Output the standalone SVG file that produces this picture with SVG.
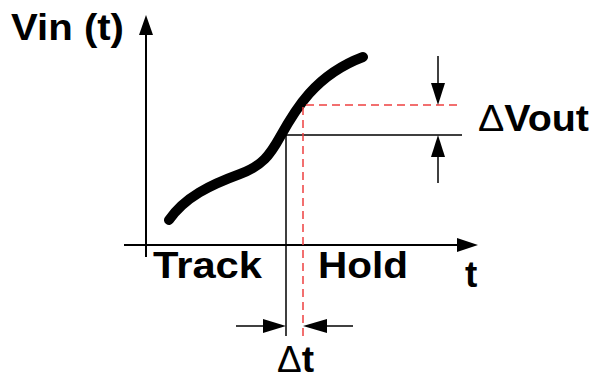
<svg xmlns="http://www.w3.org/2000/svg" width="598" height="377" viewBox="0 0 598 377">
<style>
.lbl{font-family:"Liberation Sans",Arial,sans-serif;font-weight:bold;font-size:37px;fill:#000}
.dl{font-weight:normal}
.ax{stroke:#000;stroke-width:2;fill:none}
.thin{stroke:#000;stroke-width:1.5;fill:none}
.red{stroke:#ee4040;stroke-width:1.5;fill:none;stroke-dasharray:8,5}
.ah{fill:#000;stroke:none}
</style>
<rect width="598" height="377" fill="#fff"/>
<g id="axes">
<line class="ax" x1="146" y1="257" x2="146" y2="32"/>
<polygon class="ah" points="146,15 139,35 153,35"/>
<line class="ax" x1="124" y1="245" x2="460" y2="245"/>
<polygon class="ah" points="478,245 457,238 457,252"/>
</g>
<g id="curve">
<path d="M169,220 C185,197 210,185 240,174 C262,166 270,155 280,137 C295,110 315,75 363,57" stroke="#000" stroke-width="10" stroke-linecap="round" fill="none"/>
</g>
<g id="connectors">
<polyline class="thin" points="286,336 286,135 462,135"/>
<polyline class="red" points="303,336 303,105 462,105"/>
<line class="thin" x1="438" y1="56" x2="438" y2="85"/>
<polygon class="ah" points="438,105 431,83 445,83"/>
<line class="thin" x1="438" y1="183" x2="438" y2="155"/>
<polygon class="ah" points="438,135 431,157 445,157"/>
<line class="thin" x1="236" y1="326" x2="265" y2="326"/>
<polygon class="ah" points="286,326 263,319 263,333"/>
<line class="thin" x1="353" y1="326" x2="325" y2="326"/>
<polygon class="ah" points="303,326 327,319 327,333"/>
</g>
<g id="labels">
<text class="lbl" x="11" y="40" textLength="113" lengthAdjust="spacingAndGlyphs">Vin (t)</text>
<text class="lbl" x="478" y="131" textLength="111" lengthAdjust="spacingAndGlyphs"><tspan class="dl">Δ</tspan>Vout</text>
<text class="lbl" x="153" y="278" textLength="109" lengthAdjust="spacingAndGlyphs">Track</text>
<text class="lbl" x="318" y="278" textLength="90" lengthAdjust="spacingAndGlyphs">Hold</text>
<text class="lbl" x="465" y="287">t</text>
<text class="lbl" x="277" y="372"><tspan class="dl">Δ</tspan>t</text>
</g>
</svg>
